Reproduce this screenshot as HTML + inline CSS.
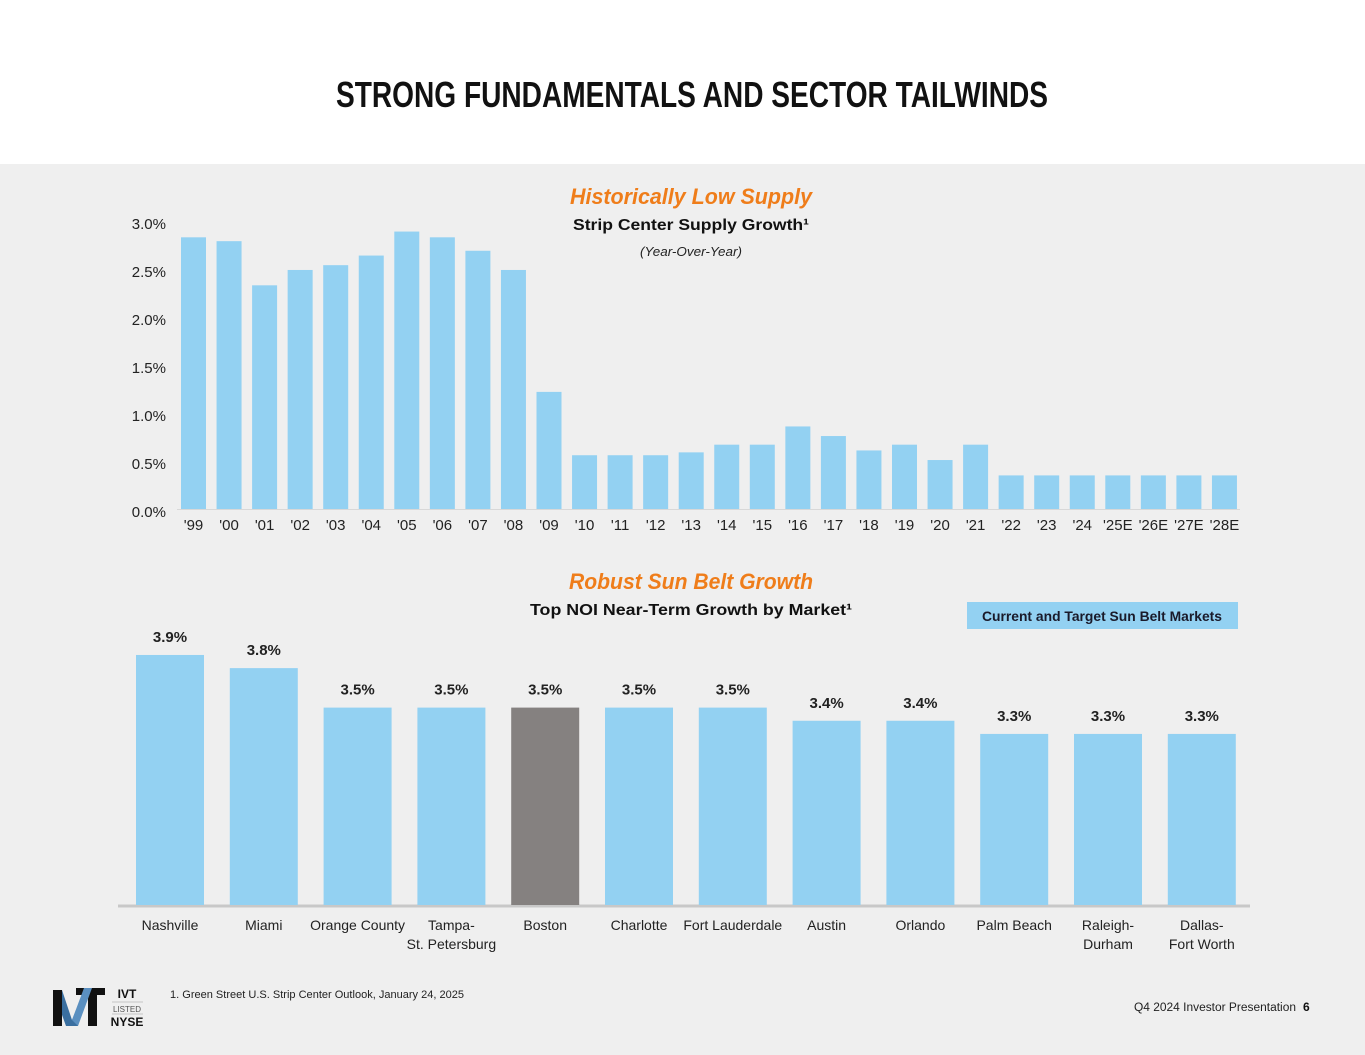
<!DOCTYPE html>
<html><head><meta charset="utf-8">
<style>
html,body{margin:0;padding:0;background:#fff;}
svg{display:block;}
text{font-family:"Liberation Sans",sans-serif;}
</style></head>
<body>
<svg id="page" width="1365" height="1055" viewBox="0 0 1365 1055" xmlns="http://www.w3.org/2000/svg">
  <rect x="0" y="0" width="1365" height="164" fill="#ffffff"/>
  <rect x="0" y="164" width="1365" height="891" fill="#efefef"/>
  <text x="692" y="107" text-anchor="middle" font-size="36" font-weight="bold" fill="#111" textLength="712" lengthAdjust="spacingAndGlyphs" style="font-family:'Liberation Sans Narrow','Liberation Sans',sans-serif">STRONG FUNDAMENTALS AND SECTOR TAILWINDS</text>

  <text x="691" y="204" text-anchor="middle" font-size="22" font-weight="bold" font-style="italic" fill="#ef7d1a" textLength="242" lengthAdjust="spacingAndGlyphs">Historically Low Supply</text>
  <text x="691" y="230" text-anchor="middle" font-size="16" font-weight="bold" fill="#111" textLength="236" lengthAdjust="spacingAndGlyphs">Strip Center Supply Growth¹</text>
  <text x="691" y="256" text-anchor="middle" font-size="13" font-style="italic" fill="#222" textLength="102" lengthAdjust="spacingAndGlyphs">(Year-Over-Year)</text>
  <g id="top-chart"></g>

  <text x="691" y="589" text-anchor="middle" font-size="22" font-weight="bold" font-style="italic" fill="#ef7d1a" textLength="244" lengthAdjust="spacingAndGlyphs">Robust Sun Belt Growth</text>
  <text x="691" y="615" text-anchor="middle" font-size="16" font-weight="bold" fill="#111" textLength="322" lengthAdjust="spacingAndGlyphs">Top NOI Near-Term Growth by Market¹</text>
  <g>
    <rect x="967" y="602" width="271" height="27" fill="#93d1f2"/>
    <text x="1102" y="621" text-anchor="middle" font-size="14" font-weight="bold" fill="#1a1a2a" textLength="240" lengthAdjust="spacingAndGlyphs">Current and Target Sun Belt Markets</text>
  </g>
  <g id="bottom-chart"></g>

  <g>
    <polygon points="53,990 62,990 72,1020 76,1010 78,1026 66,1026" fill="#3a6fa0"/>
    <rect x="53" y="990" width="9" height="36" fill="#111"/>
    <rect x="76" y="988" width="29" height="7" fill="#111"/>
    <rect x="88" y="988" width="9" height="38" fill="#111"/>
    <polygon points="72,1020 84,988 92,988 78,1026" fill="#5a8fc0"/>
    <text x="127" y="998" text-anchor="middle" font-size="12" font-weight="bold" fill="#111">IVT</text>
    <line x1="112" y1="1002" x2="143" y2="1002" stroke="#999" stroke-width="0.6"/>
    <text x="127" y="1012" text-anchor="middle" font-size="8" fill="#555">LISTED</text>
    <line x1="112" y1="1014" x2="143" y2="1014" stroke="#999" stroke-width="0.6"/>
    <text x="127" y="1026" text-anchor="middle" font-size="12" font-weight="bold" fill="#111">NYSE</text>
  </g>
  <text x="170" y="998" font-size="11" fill="#222" textLength="294" lengthAdjust="spacingAndGlyphs">1.  Green Street U.S. Strip Center Outlook, January 24, 2025</text>
  <text x="1296" y="1011" text-anchor="end" font-size="11.5" fill="#222" textLength="162" lengthAdjust="spacingAndGlyphs">Q4 2024 Investor Presentation</text>
  <text x="1303" y="1011" font-size="12" font-weight="bold" fill="#111">6</text>
</svg>
<script>
const years = ["'99","'00","'01","'02","'03","'04","'05","'06","'07","'08","'09","'10","'11","'12","'13","'14","'15","'16","'17","'18","'19","'20","'21","'22","'23","'24","'25E","'26E","'27E","'28E"];
const supply = [2.83,2.79,2.33,2.49,2.54,2.64,2.89,2.83,2.69,2.49,1.22,0.56,0.56,0.56,0.59,0.67,0.67,0.86,0.76,0.61,0.67,0.51,0.67,0.35,0.35,0.35,0.35,0.35,0.35,0.35];
const supplyTicks = [0,0.5,1.0,1.5,2.0,2.5,3.0];
const supplyTickLabels = ["0.0%","0.5%","1.0%","1.5%","2.0%","2.5%","3.0%"];

const markets = ["Nashville","Miami","Orange County","Tampa-|St. Petersburg","Boston","Charlotte","Fort Lauderdale","Austin","Orlando","Palm Beach","Raleigh-|Durham","Dallas-|Fort Worth"];
const noi = [3.9,3.8,3.5,3.5,3.5,3.5,3.5,3.4,3.4,3.3,3.3,3.3];
const noiLabels = ["3.9%","3.8%","3.5%","3.5%","3.5%","3.5%","3.5%","3.4%","3.4%","3.3%","3.3%","3.3%"];
const highlighted = [false,false,false,false,true,false,false,false,false,false,false,false];

const NS = "http://www.w3.org/2000/svg";
function mk(tag, attrs, parent){const e=document.createElementNS(NS,tag);for(const k in attrs)e.setAttribute(k,attrs[k]);parent.appendChild(e);return e;}

// top chart
const topG = document.getElementById('top-chart');
const yTop = v => 509 - v*96;
const xTop = i => 181 + i*35.55;
supplyTicks.forEach((t,i)=>{
  const tx = mk('text',{x:166,y:yTop(t)+8,'text-anchor':'end','font-size':15,fill:'#222'},topG);
  tx.textContent = supplyTickLabels[i];
  
  
});
const ax = mk('line',{x1:177,y1:509.5,x2:1240,y2:509.5,stroke:'#d8d8d8','stroke-width':1},topG);


supply.forEach((v,i)=>{
  const r = mk('rect',{x:xTop(i),y:yTop(v),width:25,height:509-yTop(v),fill:'#93d1f2'},topG);
  
  
  const t = mk('text',{x:xTop(i)+12.5,y:530,'text-anchor':'middle','font-size':15,fill:'#222'},topG);
  t.textContent = years[i];
  
  
});

// bottom chart
const botG = document.getElementById('bottom-chart');
const yBot = v => 905 - (v-2.0)*131.6;
const xBot = i => 136 + i*93.8;
const bl = mk('line',{x1:118,y1:906,x2:1250,y2:906,stroke:'#c8c8c8','stroke-width':3},botG);


noi.forEach((v,i)=>{
  const r = mk('rect',{x:xBot(i),y:yBot(v),width:68,height:905-yBot(v),fill:highlighted[i]?'#858180':'#93d1f2'},botG);
  
  
  const vl = mk('text',{x:xBot(i)+34,y:yBot(v)-13,'text-anchor':'middle','font-size':15,'font-weight':'bold',fill:'#222'},botG);
  vl.textContent = noiLabels[i];
  
  
  const parts = markets[i].split('|');
  parts.forEach((p,j)=>{
    const t = mk('text',{x:xBot(i)+34,y:930+j*19,'text-anchor':'middle','font-size':14,fill:'#222'},botG);
    t.textContent = p;
    
    
  });
});
</script>
</body></html>
